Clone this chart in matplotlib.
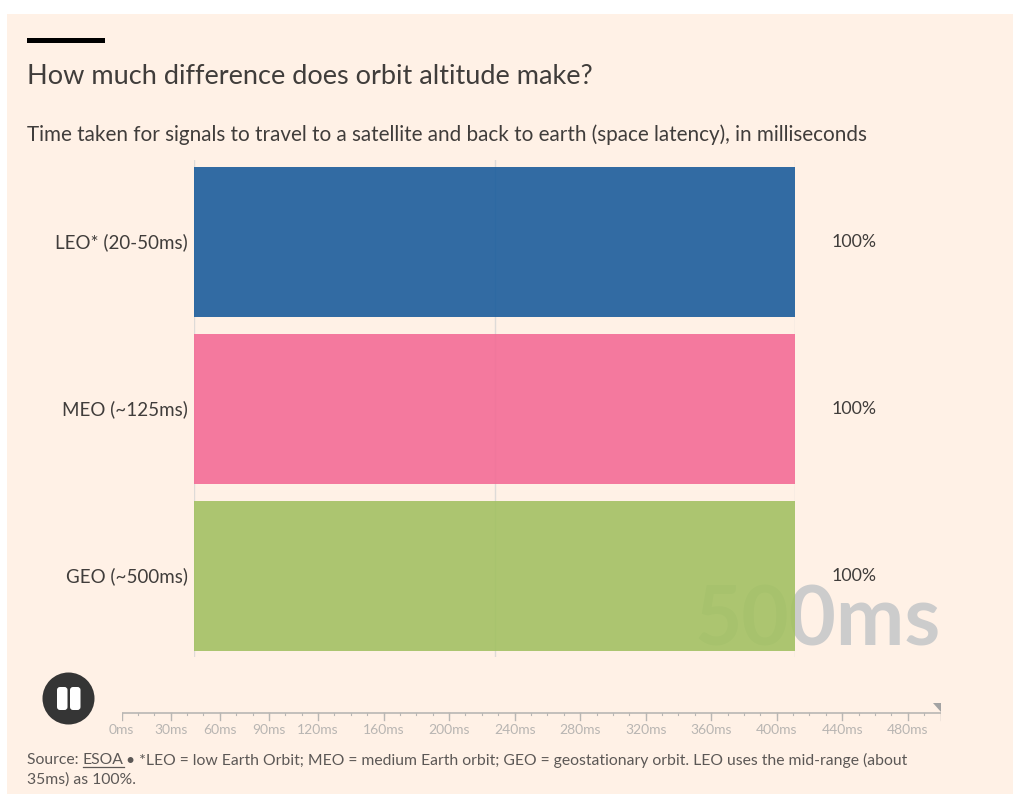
import matplotlib
matplotlib.use("Agg")
import matplotlib.pyplot as plt
from matplotlib.patches import Circle, FancyBboxPatch, Rectangle, Polygon

W, H = 1014, 794
PANEL = "#fff1e6"
INK = "#403d3b"
FONT = "Lato"

categories = ["LEO* (20-50ms)", "MEO (~125ms)", "GEO (~500ms)"]
shares = [100, 100, 100]
share_labels = ["100%", "100%", "100%"]
bar_colors = ["#1b5d9c", "#f36c96", "#a3c163"]

timeline_major = [0, 30, 60, 90, 120, 160, 200, 240, 280, 320, 360, 400, 440, 480, 500]
timeline_labelled = [0, 30, 60, 90, 120, 160, 200, 240, 280, 320, 360, 400, 440, 480]
timeline_minor = list(range(0, 501, 10))
current_ms = 500

plt.rcParams["font.family"] = [FONT, "DejaVu Sans"]
fig = plt.figure(figsize=(W / 100, H / 100), dpi=100, facecolor="white")


def box(x0, y0, x1, y1, **kw):
    """Axes placed by pixel edges, measured from the top left of the figure."""
    return fig.add_axes([x0 / W, 1 - y1 / H, (x1 - x0) / W, (y1 - y0) / H], **kw)


# Page layer in pixel coordinates: panel, heading, notes, play control
page = box(0, 0, W, H, zorder=0)
page.set_xlim(0, W)
page.set_ylim(H, 0)
page.axis("off")
page.add_patch(Rectangle((7, 14), 1006, 780, fc=PANEL, ec="none"))
page.add_patch(Rectangle((27, 38), 78, 5, fc="black", ec="none"))
page.text(27, 76, "How much difference does orbit altitude make?", fontsize=19.57,
          color=INK, va="center", ha="left")
page.text(27, 135, "Time taken for signals to travel to a satellite and back to earth "
          "(space latency), in milliseconds", fontsize=14.89, color=INK, va="center", ha="left")

# Clock readout sits behind the translucent bars
page.text(941, 622, f"{current_ms}ms", fontsize=58.8, fontweight="bold", color="#cccccc",
          va="center", ha="right", zorder=1)

page.add_patch(Circle((68.5, 698.5), 26, fc="#353535", ec="none"))
for x in (57, 70):
    page.add_patch(FancyBboxPatch((x, 687), 10.5, 23,
                                  boxstyle="round,pad=0,rounding_size=3",
                                  mutation_scale=1, fc="white", ec="none"))

note_color = "#5c5856"
note_size = 11.33
source = page.text(27, 760, "Source: ", fontsize=note_size, color=note_color, va="center", ha="left")
fig.canvas.draw()
renderer = fig.canvas.get_renderer()
inv = page.transData.inverted()
x_link = inv.transform(source.get_window_extent(renderer).p1)[0]
link = page.text(x_link, 760, "ESOA", fontsize=note_size, color=note_color, va="center", ha="left")
link_box = link.get_window_extent(renderer)
x_end = inv.transform(link_box.p1)[0]
page.plot([x_link, x_end], [767, 767], color=note_color, lw=0.9)
page.text(x_end + 3, 760, "\u2022 *LEO = low Earth Orbit; MEO = medium Earth orbit; "
          "GEO = geostationary orbit. LEO uses the mid-range (about",
          fontsize=note_size, color=note_color, va="center", ha="left")
page.text(27, 780, "35ms) as 100%.", fontsize=note_size, color=note_color, va="center", ha="left")

# Horizontal bars on a percentage scale
ax = box(194, 160, 795, 657, zorder=2)
ax.patch.set_alpha(0)
positions = list(range(len(categories)))
ax.set_xlim(0, 100)
ax.set_ylim(2.4835, -0.4925)
for v in (0, 50, 100):
    ax.axvline(v, color="#dedbd8", lw=1, zorder=1)
ax.barh(positions, shares, height=0.901, color=bar_colors, alpha=0.9, zorder=2, linewidth=0)
ax.set_yticks(positions, categories, fontsize=13.5, color=INK, va="center")
ax.set_xticks([])
ax.tick_params(axis="y", length=0, pad=4.5)
for s in ax.spines.values():
    s.set_visible(False)
for y, label in zip(positions, share_labels):
    ax.annotate(label, (100, y), xytext=(37, 0), textcoords="offset pixels",
                fontsize=12.8, color=INK, va="center", ha="left")

# Timeline scrubber
tl = box(121.5, 700, 940.5, 740, zorder=3)
tl.patch.set_alpha(0)
tl.set_xlim(0, 500)
tl.set_ylim(40, 0)
tl.axis("off")
grey = "#b9b7b4"
tl.plot([0, 500], [13, 13], color=grey, lw=1.2, solid_capstyle="butt")
for m in timeline_minor:
    tl.plot([m, m], [13, 15], color=grey, lw=0.8)
for m in timeline_major:
    tl.plot([m, m], [13, 20], color=grey, lw=1)
for m in timeline_labelled:
    tl.text(m, 30, f"{m}ms", fontsize=10, color="#b8b5b2", ha="center", va="center")
tl.add_patch(Polygon([[current_ms - 4.5, 3], [current_ms, 3], [current_ms, 12]], closed=True,
                     fc="#a3a3a3", ec="none", clip_on=False))

fig.savefig("out.png", dpi=100, facecolor="white")
